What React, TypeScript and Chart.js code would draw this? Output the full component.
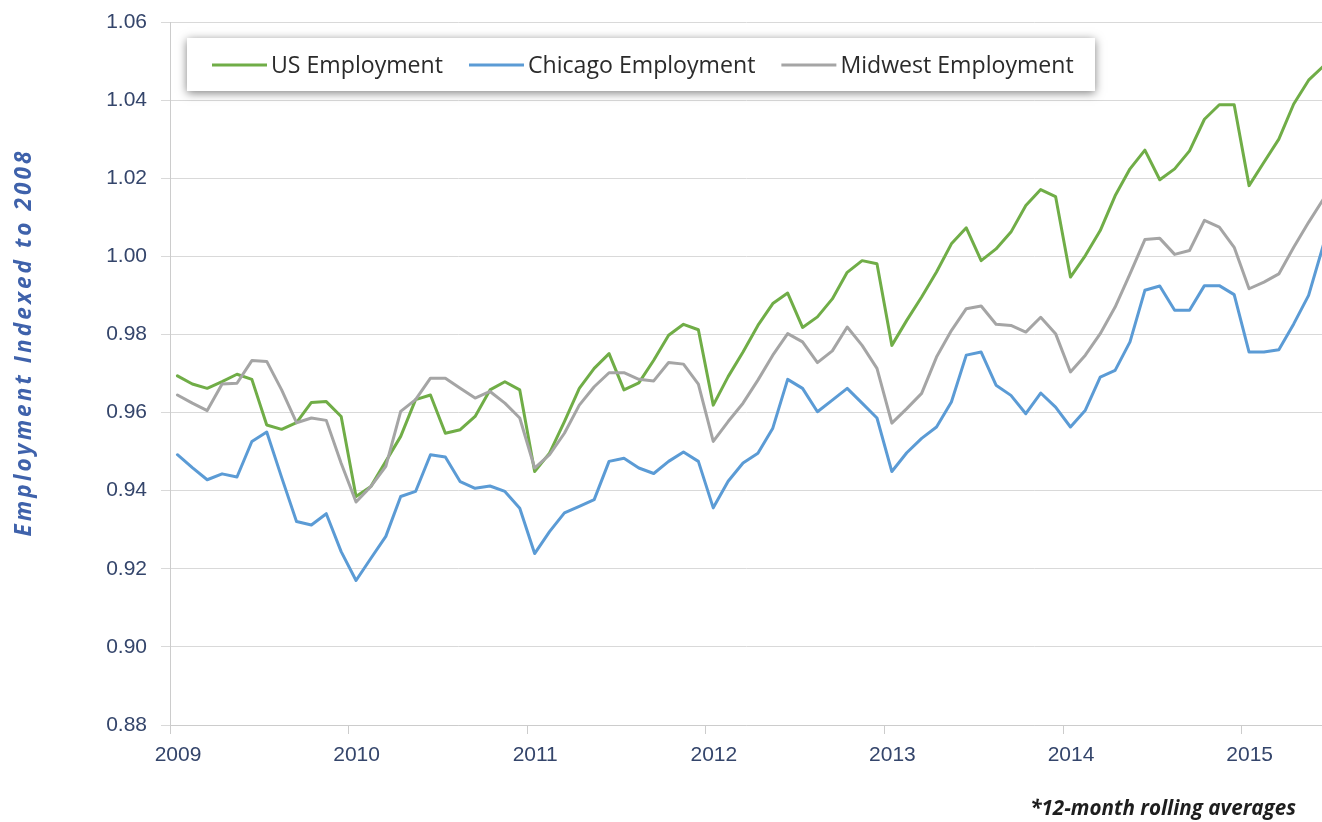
import React, { useEffect, useRef } from 'react';
import { Chart, registerables } from 'chart.js';

Chart.register(...registerables);

// ---- data ----
const YEAR_LABELS = ['2009', '2010', '2011', '2012', '2013', '2014', '2015'];
const MONTHS_PER_YEAR = 12;
const X_MAX_MONTHS = 77.4; // visible range in months from Jan 2009

const SERIES_NAMES = ['US Employment', 'Chicago Employment', 'Midwest Employment'];

const US_EMPLOYMENT = [
  0.9694, 0.9673, 0.9662, 0.9679, 0.9698, 0.9685, 0.9568, 0.9557, 0.9574, 0.9626, 0.9628, 0.9590,
  0.9385, 0.9411, 0.9475, 0.9539, 0.9633, 0.9645, 0.9547, 0.9556, 0.9590, 0.9658, 0.9679, 0.9658,
  0.9449, 0.9496, 0.9577, 0.9662, 0.9713, 0.9751, 0.9658, 0.9676, 0.9734, 0.9798, 0.9826, 0.9812,
  0.9619, 0.9692, 0.9755, 0.9823, 0.9879, 0.9906, 0.9818, 0.9845, 0.9891, 0.9959, 0.9989, 0.9981,
  0.9772, 0.9836, 0.9896, 0.9960, 1.0032, 1.0073, 0.9989, 1.0019, 1.0062, 1.0130, 1.0171, 1.0153,
  0.9947, 1.0002, 1.0066, 1.0155, 1.0224, 1.0272, 1.0196, 1.0224, 1.0270, 1.0351, 1.0388, 1.0388,
  1.0181, 1.0241, 1.0300, 1.0390, 1.0451, 1.0487,
];

const CHICAGO_EMPLOYMENT = [
  0.9492, 0.9459, 0.9428, 0.9443, 0.9435, 0.9526, 0.9550, 0.9434, 0.9321, 0.9312, 0.9341, 0.9244,
  0.9170, 0.9227, 0.9283, 0.9385, 0.9398, 0.9492, 0.9486, 0.9423, 0.9406, 0.9412, 0.9398, 0.9355,
  0.9239, 0.9295, 0.9343, 0.9360, 0.9377, 0.9475, 0.9483, 0.9458, 0.9444, 0.9475, 0.9499, 0.9475,
  0.9356, 0.9424, 0.9471, 0.9496, 0.9560, 0.9685, 0.9662, 0.9602, 0.9632, 0.9662, 0.9624, 0.9586,
  0.9449, 0.9497, 0.9534, 0.9563, 0.9627, 0.9747, 0.9755, 0.9670, 0.9644, 0.9597, 0.9650, 0.9614,
  0.9563, 0.9606, 0.9691, 0.9708, 0.9781, 0.9913, 0.9924, 0.9862, 0.9862, 0.9925, 0.9925, 0.9902,
  0.9755, 0.9755, 0.9761, 0.9827, 0.9900, 1.0030,
];

const MIDWEST_EMPLOYMENT = [
  0.9645, 0.9624, 0.9605, 0.9673, 0.9675, 0.9733, 0.9731, 0.9658, 0.9574, 0.9586, 0.9580, 0.9470,
  0.9371, 0.9411, 0.9462, 0.9603, 0.9633, 0.9688, 0.9688, 0.9662, 0.9637, 0.9654, 0.9624, 0.9586,
  0.9458, 0.9492, 0.9547, 0.9619, 0.9666, 0.9702, 0.9702, 0.9685, 0.9681, 0.9728, 0.9724, 0.9673,
  0.9526, 0.9577, 0.9624, 0.9683, 0.9747, 0.9802, 0.9781, 0.9728, 0.9758, 0.9819, 0.9772, 0.9713,
  0.9573, 0.9610, 0.9649, 0.9742, 0.9810, 0.9866, 0.9873, 0.9826, 0.9823, 0.9806, 0.9844, 0.9802,
  0.9704, 0.9747, 0.9802, 0.9870, 0.9955, 1.0043, 1.0046, 1.0005, 1.0015, 1.0092, 1.0075, 1.0023,
  0.9917, 0.9934, 0.9955, 1.0023, 1.0087, 1.0147,
];

const Y_MIN = 0.88;
const Y_MAX = 1.06;
const Y_STEP = 0.02;

const Y_TITLE = 'Employment Indexed to 2008';
const FOOTNOTE = '*12-month rolling averages';

// ---- styles ----
const COLORS = ['#70ad47', '#5b9bd5', '#a5a5a5'];
const TICK_COLOR = '#34456b';
const GRID_COLOR = '#d9d9d9';
const AXIS_COLOR = '#cccccc';

// mid-month positions
const toPoints = (arr: number[]) => arr.map((v, i) => ({ x: i + 0.5, y: v }));

function fitFontSize(ctx: CanvasRenderingContext2D, style: string, family: string, text: string, target: number) {
  ctx.font = `${style} 20px ${family}`;
  const w = ctx.measureText(text).width;
  return (20 * target) / w;
}

const decorPlugin = {
  id: 'decor',
  afterDraw(chart: any) {
    const ctx: CanvasRenderingContext2D = chart.ctx;
    ctx.save();

    // ---- legend box with shadow ----
    const bx = 187;
    const by = 38;
    const bw = 908;
    const bh = 53;
    ctx.shadowColor = 'rgba(0,0,0,0.5)';
    ctx.shadowBlur = 9;
    ctx.shadowOffsetX = 0;
    ctx.shadowOffsetY = 2;
    ctx.fillStyle = '#ffffff';
    ctx.fillRect(bx, by, bw, bh);
    ctx.shadowColor = 'transparent';
    ctx.shadowBlur = 0;
    ctx.shadowOffsetY = 0;

    const fam = '"Open Sans"';
    const size = fitFontSize(ctx, '', fam, SERIES_NAMES[0], 172);
    ctx.font = `${size.toFixed(2)}px ${fam}`;
    ctx.textAlign = 'left';
    ctx.textBaseline = 'alphabetic';
    let x = bx + 25;
    const cy = by + 27;
    chart.data.datasets.forEach((ds: any) => {
      ctx.strokeStyle = ds.borderColor;
      ctx.lineWidth = 3;
      ctx.beginPath();
      ctx.moveTo(x, cy);
      ctx.lineTo(x + 55, cy);
      ctx.stroke();
      ctx.fillStyle = '#2b2b2b';
      ctx.fillText(ds.label, x + 59, cy + 8);
      x += 59 + ctx.measureText(ds.label).width + 26;
    });

    // ---- y title ----
    ctx.save();
    const tSize = 22.5;
    ctx.font = `italic bold ${tSize}px ${fam}`;
    const tw = ctx.measureText(Y_TITLE).width;
    const spacing = Math.max(0, (388 - tw) / Y_TITLE.length);
    (ctx as any).letterSpacing = `${spacing.toFixed(2)}px`;
    ctx.fillStyle = '#3f62ab';
    ctx.translate(31, 344);
    ctx.rotate(-Math.PI / 2);
    ctx.textAlign = 'center';
    ctx.textBaseline = 'alphabetic';
    ctx.fillText(Y_TITLE, spacing / 2, 0);
    ctx.restore();

    // ---- footnote ----
    const fSize = fitFontSize(ctx, 'italic bold', fam, FOOTNOTE, 266);
    ctx.font = `italic bold ${fSize.toFixed(2)}px ${fam}`;
    ctx.fillStyle = '#1e1e1e';
    ctx.textAlign = 'right';
    ctx.textBaseline = 'alphabetic';
    ctx.fillText(FOOTNOTE, 1296, 815);

    ctx.restore();
  },
};

export default function App() {
  const ref = useRef<HTMLCanvasElement>(null);

  useEffect(() => {
    document.body.style.margin = '0';
    const canvas = ref.current;
    if (!canvas) return;
    const tickFont = { family: '"Liberation Sans", Arial, sans-serif', size: 21 };
    const chart = new Chart(canvas, {
      type: 'line',
      data: {
        datasets: [
          { label: SERIES_NAMES[0], data: toPoints(US_EMPLOYMENT), borderColor: COLORS[0], backgroundColor: COLORS[0], order: 3 },
          { label: SERIES_NAMES[1], data: toPoints(CHICAGO_EMPLOYMENT), borderColor: COLORS[1], backgroundColor: COLORS[1], order: 2 },
          { label: SERIES_NAMES[2], data: toPoints(MIDWEST_EMPLOYMENT), borderColor: COLORS[2], backgroundColor: COLORS[2], order: 1 },
        ],
      },
      options: {
        responsive: false,
        animation: false,
        devicePixelRatio: 1,
        layout: { padding: { top: 22, left: 0, right: 0, bottom: 0 } },
        elements: {
          point: { radius: 0, hoverRadius: 0 },
          line: { borderWidth: 3, tension: 0, borderCapStyle: 'round', borderJoinStyle: 'round' },
        },
        plugins: {
          legend: { display: false },
          tooltip: { enabled: false },
          title: { display: false },
        },
        scales: {
          x: {
            type: 'linear',
            min: 0,
            max: X_MAX_MONTHS,
            afterBuildTicks: (s: any) => {
              s.ticks = YEAR_LABELS.map((_, k) => ({ value: k * MONTHS_PER_YEAR }));
            },
            afterFit: (s: any) => {
              s.height = 97;
              s.paddingLeft = 0;
              s.paddingRight = 0;
            },
            ticks: {
              autoSkip: false,
              maxRotation: 0,
              minRotation: 0,
              labelOffset: 8,
              padding: 9,
              color: TICK_COLOR,
              font: tickFont,
              callback: (v: any) => YEAR_LABELS[Math.round(Number(v) / MONTHS_PER_YEAR)] ?? '',
            },
            grid: { drawOnChartArea: false, drawTicks: true, tickLength: 9, color: AXIS_COLOR },
            border: { color: AXIS_COLOR, width: 1 },
          },
          y: {
            min: Y_MIN,
            max: Y_MAX,
            afterFit: (s: any) => {
              s.width = 170;
              s.paddingTop = 0;
              s.paddingBottom = 0;
            },
            ticks: {
              stepSize: Y_STEP,
              padding: 14,
              color: TICK_COLOR,
              font: tickFont,
              callback: (v: any) => Number(v).toFixed(2),
            },
            grid: { color: GRID_COLOR, tickLength: 9, drawTicks: true },
            border: { color: AXIS_COLOR, width: 1 },
          },
        },
      },
      plugins: [decorPlugin],
    } as any);
    return () => chart.destroy();
  }, []);

  return (
    <div style={{ width: 1322, height: 822, position: 'relative' }}>
      <canvas ref={ref} width={1322} height={822} style={{ display: 'block' }} />
    </div>
  );
}
